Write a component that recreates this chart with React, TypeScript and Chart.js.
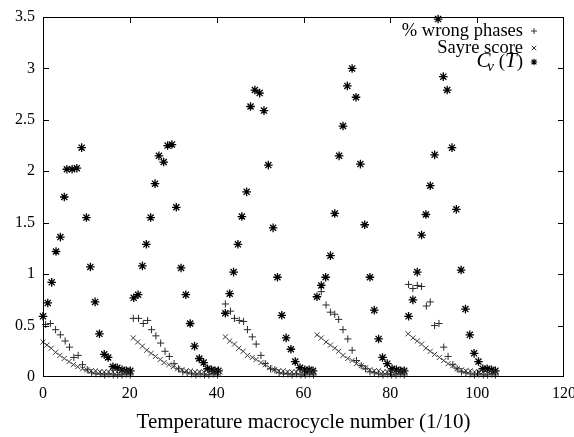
import React, { useEffect, useRef } from 'react';
import { Chart, registerables } from 'chart.js';

Chart.register(...registerables);

const FONT = '"Liberation Serif", "Times New Roman", serif';

const xTickValues = [0, 20, 40, 60, 80, 100, 120];
const yTickValues = [0, 0.5, 1, 1.5, 2, 2.5, 3, 3.5];

const seriesLabels = ['% wrong phases', 'Sayre score', 'C_v (T)'];
const xAxisTitle = 'Temperature macrocycle number (1/10)';

// % wrong phases (+)
const wrongX = [
  0.6, 1.7, 2.9, 4.0, 5.1, 6.1, 7.1, 8.1, 9.1, 10.2, 11.2, 12.2, 13.2, 14.2, 15.2, 16.2, 17.2, 18.2, 19.2, 20.1,
  20.8, 22.0, 23.1, 24.1, 25.0, 26.0, 27.1, 28.1, 29.1, 30.2, 31.2, 32.2, 33.2, 34.2, 35.2, 36.2, 37.2, 38.2, 39.2, 40.2,
  42.0, 43.2, 44.1, 45.2, 46.2, 47.1, 48.2, 49.1, 50.2, 51.2, 52.4, 53.4, 54.4, 55.4, 56.4, 57.4, 58.4, 59.4, 60.4, 61.4, 62.3,
  64.1, 65.2, 66.2, 67.2, 68.1, 69.1, 70.2, 71.2, 72.2, 73.3, 74.3, 75.3, 76.3, 77.3, 78.3, 79.3, 80.3, 81.3, 82.3, 83.2,
  84.2, 85.2, 86.2, 87.2, 88.3, 89.2, 90.2, 91.2, 92.3, 93.3, 94.4, 95.4, 96.4, 97.4, 98.4, 99.4, 100.4, 101.4, 102.4, 103.4, 104.2,
];
const wrongY = [
  0.51, 0.52, 0.46, 0.41, 0.35, 0.29, 0.19, 0.21, 0.12, 0.07, 0.04, 0.03, 0.03, 0.02, 0.03, 0.02, 0.02, 0.02, 0.03, 0.02,
  0.57, 0.57, 0.52, 0.55, 0.46, 0.40, 0.33, 0.25, 0.20, 0.13, 0.08, 0.05, 0.04, 0.03, 0.02, 0.03, 0.02, 0.02, 0.03, 0.02,
  0.71, 0.64, 0.57, 0.55, 0.54, 0.46, 0.39, 0.32, 0.21, 0.13, 0.08, 0.07, 0.04, 0.03, 0.03, 0.02, 0.03, 0.02, 0.02, 0.03, 0.02,
  0.83, 0.70, 0.63, 0.61, 0.56, 0.46, 0.37, 0.26, 0.16, 0.11, 0.08, 0.05, 0.04, 0.03, 0.02, 0.03, 0.02, 0.02, 0.03, 0.02,
  0.90, 0.86, 0.89, 0.88, 0.69, 0.73, 0.50, 0.52, 0.29, 0.20, 0.12, 0.08, 0.05, 0.04, 0.03, 0.02, 0.03, 0.02, 0.02, 0.03, 0.02,
];

// Sayre score (x)
const sayreX = [
  0.0, 0.9, 1.9, 2.9, 3.9, 4.9, 6.0, 7.0, 8.0, 9.1, 10.1, 11.1, 12.1, 13.1, 14.1, 15.1, 16.1, 17.1, 18.1, 19.1, 20.0,
  20.8, 21.8, 22.9, 23.9, 24.9, 25.9, 27.0, 27.9, 29.0, 30.0, 31.0, 32.0, 33.0, 34.0, 35.0, 36.0, 37.0, 38.0, 39.0, 40.0, 40.8,
  42.0, 43.0, 44.1, 45.1, 46.1, 47.1, 48.2, 49.1, 50.2, 51.2, 52.2, 53.3, 54.3, 55.3, 56.3, 57.3, 58.3, 59.3, 60.3, 61.3, 62.2,
  63.1, 64.1, 65.2, 66.2, 67.2, 68.1, 69.1, 70.2, 71.2, 72.2, 73.3, 74.3, 75.3, 76.3, 77.3, 78.3, 79.3, 80.3, 81.3, 82.3, 83.2,
  84.1, 85.2, 86.2, 87.2, 88.2, 89.2, 90.2, 91.3, 92.3, 93.3, 94.4, 95.4, 96.4, 97.4, 98.4, 99.4, 100.4, 101.4, 102.4, 103.4, 104.2,
];
const sayreY = [
  0.34, 0.31, 0.28, 0.24, 0.21, 0.18, 0.15, 0.12, 0.10, 0.08, 0.07, 0.06, 0.06, 0.05, 0.05, 0.05, 0.05, 0.05, 0.05, 0.05, 0.05,
  0.38, 0.34, 0.30, 0.26, 0.23, 0.20, 0.17, 0.14, 0.12, 0.10, 0.08, 0.07, 0.06, 0.06, 0.05, 0.05, 0.05, 0.05, 0.05, 0.05, 0.05,
  0.39, 0.35, 0.32, 0.28, 0.25, 0.21, 0.19, 0.17, 0.14, 0.12, 0.09, 0.07, 0.06, 0.06, 0.05, 0.05, 0.05, 0.05, 0.05, 0.05, 0.05,
  0.41, 0.38, 0.34, 0.31, 0.28, 0.25, 0.21, 0.18, 0.16, 0.13, 0.11, 0.09, 0.07, 0.06, 0.06, 0.05, 0.05, 0.05, 0.05, 0.05, 0.05,
  0.42, 0.38, 0.35, 0.32, 0.28, 0.25, 0.22, 0.19, 0.16, 0.13, 0.11, 0.08, 0.07, 0.06, 0.06, 0.05, 0.05, 0.05, 0.05, 0.05, 0.05,
];

// C_v(T) (*)
const cvX = [
  0.0, 1.1, 2.0, 3.0, 4.0, 4.9, 5.5, 6.7, 7.8, 8.9, 10.0, 10.9, 12.0, 13.0, 14.1, 15.0, 16.1, 17.1, 18.2, 19.2, 20.1,
  20.9, 21.9, 22.9, 23.8, 24.8, 25.8, 26.7, 27.8, 28.7, 29.7, 30.7, 31.8, 32.9, 33.9, 34.9, 36.0, 37.0, 37.9, 38.8, 39.6, 40.4,
  42.0, 43.0, 43.9, 44.9, 45.8, 46.9, 47.8, 48.8, 49.9, 50.9, 51.9, 53.0, 54.0, 55.0, 56.0, 57.1, 58.1, 59.2, 60.3, 61.3, 62.2,
  63.1, 64.1, 65.1, 66.2, 67.2, 68.2, 69.1, 70.1, 71.2, 72.1, 73.1, 74.1, 75.3, 76.3, 77.3, 78.2, 79.3, 80.4, 81.4, 82.3, 83.2,
  84.2, 85.2, 86.2, 87.2, 88.2, 89.2, 90.2, 91.0, 92.2, 93.1, 94.2, 95.2, 96.3, 97.3, 98.3, 99.3, 100.3, 101.3, 102.3, 103.3, 104.2,
];
const cvY = [
  0.59, 0.72, 0.92, 1.22, 1.36, 1.75, 2.02, 2.02, 2.03, 2.23, 1.55, 1.07, 0.73, 0.42, 0.22, 0.19, 0.10, 0.09, 0.07, 0.06, 0.06,
  0.77, 0.80, 1.08, 1.29, 1.55, 1.88, 2.15, 2.09, 2.25, 2.26, 1.65, 1.06, 0.80, 0.52, 0.30, 0.18, 0.14, 0.08, 0.07, 0.06, 0.06,
  0.62, 0.81, 1.02, 1.29, 1.56, 1.80, 2.63, 2.79, 2.76, 2.59, 2.06, 1.45, 0.97, 0.60, 0.38, 0.27, 0.15, 0.09, 0.07, 0.07, 0.06,
  0.78, 0.89, 0.97, 1.18, 1.59, 2.15, 2.44, 2.83, 3.00, 2.72, 2.07, 1.48, 0.97, 0.65, 0.37, 0.19, 0.13, 0.08, 0.07, 0.06, 0.06,
  0.59, 0.75, 1.02, 1.38, 1.58, 1.86, 2.16, 3.48, 2.92, 2.79, 2.23, 1.63, 1.04, 0.66, 0.41, 0.23, 0.15, 0.08, 0.08, 0.07, 0.06,
];

const zip = (xs: number[], ys: number[]) => xs.map((x, i) => ({ x, y: ys[i] }));

function drawMarker(ctx: CanvasRenderingContext2D, style: string, x: number, y: number, r: number, lw: number, color: string) {
  ctx.save();
  ctx.setLineDash([]);
  ctx.globalAlpha = 1;
  ctx.lineWidth = lw;
  ctx.strokeStyle = color;
  ctx.beginPath();
  if (style === 'cross' || style === 'star') {
    ctx.moveTo(x - r, y); ctx.lineTo(x + r, y);
    ctx.moveTo(x, y - r); ctx.lineTo(x, y + r);
  }
  if (style === 'crossRot' || style === 'star') {
    const d = r * 0.75;
    ctx.moveTo(x - d, y - d); ctx.lineTo(x + d, y + d);
    ctx.moveTo(x - d, y + d); ctx.lineTo(x + d, y - d);
  }
  ctx.stroke();
  ctx.restore();
}

const framePlugin = {
  id: 'gpFrame',
  afterDraw(chart: any) {
    const { ctx, chartArea: a, scales } = chart;
    const xs = scales.x;
    const ys = scales.y;
    const L = Math.round(a.left);
    const R = Math.round(a.right) - 1;
    const T = Math.round(a.top);
    const B = Math.round(a.bottom) - 1;
    ctx.save();
    ctx.globalAlpha = 1;
    ctx.setLineDash([]);
    ctx.fillStyle = '#000';
    // frame
    ctx.fillRect(L, T, R - L + 1, 1);
    ctx.fillRect(L, B, R - L + 1, 1);
    ctx.fillRect(L, T, 1, B - T + 1);
    ctx.fillRect(R, T, 1, B - T + 1);
    // inward ticks on all sides
    const tl = 6;
    xTickValues.forEach((v) => {
      const px = Math.round(xs.getPixelForValue(v));
      const cx = Math.min(Math.max(px, L), R);
      ctx.fillRect(cx, B - tl, 1, tl);
      ctx.fillRect(cx, T, 1, tl);
    });
    yTickValues.forEach((v) => {
      const py = Math.round(ys.getPixelForValue(v));
      const cy = Math.min(Math.max(py, T), B);
      ctx.fillRect(L, cy, tl, 1);
      ctx.fillRect(R - tl + 1, cy, tl, 1);
    });

    // legend (gnuplot style: right-aligned text, symbol to the right)
    const textRight = 523;
    const symX = 534;
    ctx.fillStyle = '#000';
    ctx.textAlign = 'right';
    ctx.textBaseline = 'alphabetic';
    ctx.font = `18.5px ${FONT}`;
    ctx.fillText(seriesLabels[0], textRight, 36);
    ctx.fillText(seriesLabels[1], textRight, 53);
    drawMarker(ctx, 'cross', symX, 31, 3, 1, '#333');
    drawMarker(ctx, 'crossRot', symX, 48, 3, 1, '#333');

    // C_v (T)
    const base3 = 67;
    ctx.textAlign = 'left';
    ctx.font = `19px ${FONT}`;
    const wOpen = ctx.measureText(' (').width;
    const wClose = ctx.measureText(')').width;
    ctx.font = `italic 21px ${FONT}`;
    const wT = ctx.measureText('T').width;
    const wC = ctx.measureText('C').width;
    ctx.font = `italic 15px ${FONT}`;
    const wV = ctx.measureText('v').width;
    const total = wC + wV * 0.5 + wOpen + wT + wClose;
    let cx = textRight - total;
    ctx.font = `italic 21px ${FONT}`;
    ctx.fillText('C', cx, base3);
    ctx.font = `italic 15px ${FONT}`;
    ctx.fillText('v', cx + wC - wV * 0.5, base3 + 4);
    cx += wC + wV * 0.5;
    ctx.font = `19px ${FONT}`;
    ctx.fillText(' (', cx, base3);
    cx += wOpen;
    ctx.font = `italic 21px ${FONT}`;
    ctx.fillText('T', cx, base3);
    cx += wT;
    ctx.font = `19px ${FONT}`;
    ctx.fillText(')', cx, base3);
    drawMarker(ctx, 'star', symX, 62, 3.2, 1.1, '#000');
    ctx.restore();
  },
};

export default function App() {
  const ref = useRef<HTMLCanvasElement | null>(null);

  useEffect(() => {
    if (!ref.current) return;
    const chart = new Chart(ref.current, {
      type: 'scatter',
      data: {
        datasets: [
          {
            label: seriesLabels[0],
            data: zip(wrongX, wrongY),
            pointStyle: 'cross',
            pointRadius: 3.6,
            borderWidth: 1,
            borderColor: '#2a2a2a',
            backgroundColor: '#2a2a2a',
            clip: false,
          },
          {
            label: seriesLabels[1],
            data: zip(sayreX, sayreY),
            pointStyle: 'crossRot',
            pointRadius: 3.6,
            borderWidth: 1,
            borderColor: '#3a3a3a',
            backgroundColor: '#3a3a3a',
            clip: false,
          },
          {
            label: seriesLabels[2],
            data: zip(cvX, cvY),
            pointStyle: 'star',
            pointRadius: 4.3,
            borderWidth: 1.3,
            borderColor: '#000',
            backgroundColor: '#000',
            clip: false,
          },
        ],
      },
      options: {
        responsive: false,
        animation: false,
        events: [],
        layout: { padding: { top: 17, right: 10, left: 0, bottom: 0 } },
        plugins: {
          legend: { display: false },
          tooltip: { enabled: false },
          title: { display: false },
        },
        scales: {
          x: {
            type: 'linear',
            min: 0,
            max: 120,
            afterBuildTicks: (s: any) => { s.ticks = xTickValues.map((v) => ({ value: v })); },
            afterFit: (s: any) => { s.height = 60; s.paddingLeft = 0; s.paddingRight = 0; },
            ticks: {
              color: '#000',
              font: { family: FONT, size: 16 },
              padding: 7,
              maxRotation: 0,
              callback: (v: any) => String(v),
            },
            grid: { display: false, drawTicks: false },
            border: { display: false },
            title: {
              display: true,
              text: xAxisTitle,
              color: '#000',
              font: { family: FONT, size: 21 },
              padding: { top: 0, bottom: 2 },
            },
          },
          y: {
            type: 'linear',
            min: 0,
            max: 3.5,
            afterBuildTicks: (s: any) => { s.ticks = yTickValues.map((v) => ({ value: v })); },
            afterFit: (s: any) => { s.width = 43; s.paddingTop = 0; s.paddingBottom = 0; },
            ticks: {
              color: '#000',
              font: { family: FONT, size: 16 },
              padding: 8,
              callback: (v: any) => String(v),
            },
            grid: { display: false, drawTicks: false },
            border: { display: false },
          },
        },
      },
      plugins: [framePlugin],
    });
    return () => chart.destroy();
  }, []);

  return (
    <div style={{ position: 'absolute', left: 0, top: 0, width: 574, height: 437, background: '#fff' }}>
      <canvas ref={ref} width={574} height={437} style={{ width: 574, height: 437, display: 'block' }} />
    </div>
  );
}
